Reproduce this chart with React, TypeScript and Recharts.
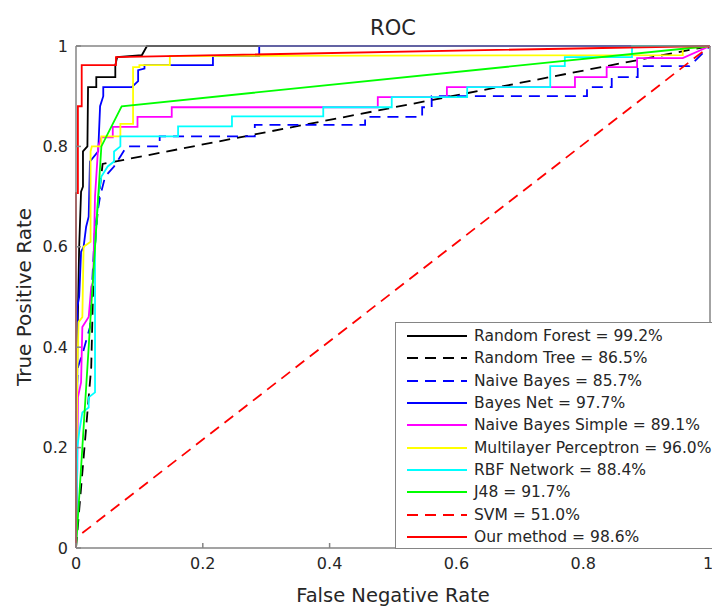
import { LineChart, Line, XAxis, YAxis, Legend } from "recharts";

type Pt = [number, number];

// ROC points: [false rate, true positive rate]
const randomForest: Pt[] = [
  [0, 0], [0.002, 0.4], [0.005, 0.6], [0.008, 0.71], [0.011, 0.72], [0.011, 0.79],
  [0.018, 0.8], [0.019, 0.918], [0.032, 0.918], [0.032, 0.938], [0.062, 0.938],
  [0.062, 0.962], [0.065, 0.978], [0.104, 0.982], [0.112, 1], [1, 1],
];
const randomTree: Pt[] = [
  [0, 0], [0.01, 0.15], [0.024, 0.36], [0.028, 0.57], [0.036, 0.7], [0.042, 0.765], [1, 1],
];
const naiveBayes: Pt[] = [
  [0, 0], [0, 0.28], [0.003, 0.36], [0.011, 0.39], [0.022, 0.44], [0.03, 0.64],
  [0.038, 0.7], [0.046, 0.74], [0.06, 0.76], [0.07, 0.78], [0.08, 0.8], [0.132, 0.8],
  [0.132, 0.82], [0.282, 0.82], [0.282, 0.843], [0.456, 0.843], [0.456, 0.859],
  [0.546, 0.859], [0.546, 0.878], [0.561, 0.878], [0.561, 0.9], [0.806, 0.9],
  [0.806, 0.918], [0.845, 0.918], [0.845, 0.938], [0.886, 0.938], [0.886, 0.96],
  [0.968, 0.96], [1, 1],
];
const bayesNet: Pt[] = [
  [0, 0], [0.002, 0.16], [0.002, 0.48], [0.005, 0.5], [0.008, 0.59], [0.012, 0.6],
  [0.016, 0.64], [0.02, 0.66], [0.022, 0.77], [0.035, 0.79], [0.038, 0.88],
  [0.043, 0.9], [0.043, 0.918], [0.088, 0.918], [0.098, 0.93], [0.098, 0.952],
  [0.108, 0.955], [0.108, 0.962], [0.216, 0.962], [0.216, 0.98], [0.289, 0.98],
  [0.289, 1], [1, 1],
];
const naiveBayesSimple: Pt[] = [
  [0, 0], [0.003, 0.3], [0.008, 0.33], [0.01, 0.44], [0.02, 0.46], [0.024, 0.52],
  [0.027, 0.53], [0.03, 0.7], [0.035, 0.8], [0.04, 0.818], [0.058, 0.818],
  [0.058, 0.839], [0.097, 0.839], [0.097, 0.859], [0.151, 0.859], [0.151, 0.878],
  [0.476, 0.878], [0.476, 0.898], [0.585, 0.898], [0.585, 0.918], [0.787, 0.918],
  [0.787, 0.938], [0.837, 0.938], [0.837, 0.958], [0.885, 0.958], [0.885, 0.976],
  [0.957, 0.976], [1, 1],
];
const multilayerPerceptron: Pt[] = [
  [0, 0], [0.002, 0.35], [0.004, 0.45], [0.01, 0.46], [0.012, 0.6], [0.023, 0.61],
  [0.023, 0.79], [0.025, 0.8], [0.04, 0.8], [0.04, 0.82], [0.07, 0.82], [0.07, 0.845],
  [0.09, 0.845], [0.09, 0.958], [0.1, 0.958], [0.1, 0.962], [0.148, 0.962],
  [0.148, 0.98], [0.957, 0.982], [0.957, 0.995], [1, 1],
];
const rbfNetwork: Pt[] = [
  [0, 0], [0.002, 0.2], [0.005, 0.23], [0.01, 0.27], [0.02, 0.28], [0.02, 0.3],
  [0.03, 0.31], [0.03, 0.6], [0.035, 0.7], [0.04, 0.74], [0.045, 0.75], [0.05, 0.76],
  [0.06, 0.77], [0.06, 0.79], [0.07, 0.8], [0.07, 0.82], [0.161, 0.82], [0.161, 0.84],
  [0.246, 0.84], [0.246, 0.86], [0.39, 0.86], [0.39, 0.878], [0.498, 0.878],
  [0.498, 0.898], [0.617, 0.898], [0.617, 0.918], [0.748, 0.918], [0.748, 0.96],
  [0.771, 0.96], [0.771, 0.978], [0.877, 0.978], [0.877, 1], [1, 1],
];
const j48: Pt[] = [[0, 0], [0.04, 0.8], [0.072, 0.88], [1, 1]];
const svm: Pt[] = [[0, 0], [0, 0.02], [1, 1]];
const ourMethod: Pt[] = [
  [0, 0], [0, 0.707], [0.003, 0.707], [0.003, 0.88], [0.009, 0.88], [0.009, 0.962],
  [0.063, 0.962], [0.063, 0.978], [1, 1],
];

const legendLabels = [
  "Random Forest = 99.2%",
  "Random Tree = 86.5%",
  "Naive Bayes = 85.7%",
  "Bayes Net = 97.7%",
  "Naive Bayes Simple = 89.1%",
  "Multilayer Perceptron = 96.0%",
  "RBF Network = 88.4%",
  "J48 = 91.7%",
  "SVM = 51.0%",
  "Our method = 98.6%",
];
const axisTicks = [0, 0.2, 0.4, 0.6, 0.8, 1];

const FONT = "'DejaVu Sans', sans-serif";
const TEXT = "#262626";
const BOX = "#858585";
const LINE_W = 1.8;

const curves = [
  { pts: randomForest, color: "#000000", dash: undefined },
  { pts: randomTree, color: "#000000", dash: "11 7" },
  { pts: naiveBayes, color: "#0000ff", dash: "11 7" },
  { pts: bayesNet, color: "#0000ff", dash: undefined },
  { pts: naiveBayesSimple, color: "#ff00ff", dash: undefined },
  { pts: multilayerPerceptron, color: "#ffff00", dash: undefined },
  { pts: rbfNetwork, color: "#00ffff", dash: undefined },
  { pts: j48, color: "#00ff00", dash: undefined },
  { pts: svm, color: "#ff0000", dash: "11 7" },
  { pts: ourMethod, color: "#ff0000", dash: undefined },
].map((c, i) => ({
  ...c,
  name: legendLabels[i],
  data: c.pts.map(([fpr, tpr]) => ({ fpr, tpr })),
}));

const noTick = () => <g />;

const LegendBox = () => (
  <div
    style={{
      boxSizing: "border-box",
      width: 317,
      height: 227,
      background: "#fff",
      border: `1.5px solid ${BOX}`,
      borderRight: "none",
      paddingTop: 2,
      fontFamily: FONT,
      fontSize: 15.5,
      color: TEXT,
    }}
  >
    {curves.map((c) => (
      <div key={c.name} style={{ display: "flex", alignItems: "center", height: 22.3, whiteSpace: "nowrap" }}>
        <svg width={60} height={10} style={{ marginLeft: 11, marginRight: 7, flex: "none" }}>
          <line x1={0} x2={60} y1={5} y2={5} stroke={c.color} strokeWidth={LINE_W} strokeDasharray={c.dash} />
        </svg>
        <span>{c.name}</span>
      </div>
    ))}
  </div>
);

export default function App() {
  const tickStyle = { fill: TEXT, fontSize: 16, fontFamily: FONT };
  return (
    <div style={{ position: "absolute", left: 0, top: 0, width: 712, height: 608, background: "#fff", fontFamily: FONT }}>
      <LineChart width={712} height={608} margin={{ top: 45, right: 1, bottom: 0, left: 0 }}>
        <XAxis
          dataKey="fpr"
          type="number"
          domain={[0, 1]}
          ticks={axisTicks}
          height={60}
          tickSize={-5}
          tickMargin={15}
          stroke={BOX}
          strokeWidth={1.5}
          tick={tickStyle}
          label={{ value: "False Negative Rate", position: "insideBottom", offset: 6, fill: TEXT, fontSize: 19.5, fontFamily: FONT }}
        />
        <XAxis
          xAxisId="top"
          orientation="top"
          type="number"
          domain={[0, 1]}
          ticks={axisTicks}
          height={1}
          tickSize={-5}
          stroke={BOX}
          strokeWidth={1.5}
          tick={noTick}
          label={{ value: "ROC", position: "top", offset: 10, fill: TEXT, fontSize: 21, fontFamily: FONT }}
        />
        <YAxis
          type="number"
          domain={[0, 1]}
          ticks={axisTicks}
          width={76}
          tickSize={-5}
          tickMargin={13}
          stroke={BOX}
          strokeWidth={1.5}
          tick={tickStyle}
          label={{ value: "True Positive Rate", angle: -90, position: "insideLeft", offset: 24, fill: TEXT, fontSize: 20, fontFamily: FONT, style: { textAnchor: "middle" } }}
        />
        <YAxis
          yAxisId="right"
          orientation="right"
          type="number"
          domain={[0, 1]}
          ticks={axisTicks}
          width={1}
          tickSize={-5}
          stroke={BOX}
          strokeWidth={1.5}
          tick={noTick}
        />
        {curves.map((c) => (
          <Line
            key={c.name}
            name={c.name}
            data={c.data}
            dataKey="tpr"
            type="linear"
            stroke={c.color}
            strokeWidth={LINE_W}
            strokeDasharray={c.dash}
            dot={false}
            activeDot={false}
            isAnimationActive={false}
          />
        ))}
        <Legend
          layout="vertical"
          align="center"
          verticalAlign="middle"
          wrapperStyle={{ left: 395, top: 322, width: 317, height: 227 }}
          content={() => <LegendBox />}
        />
      </LineChart>
    </div>
  );
}
